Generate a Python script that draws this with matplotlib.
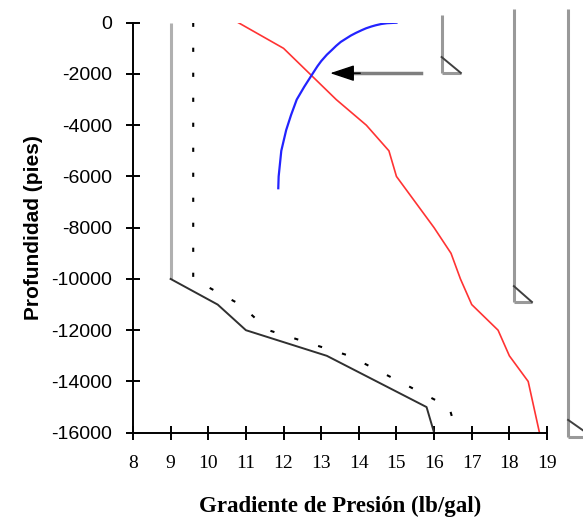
import matplotlib.pyplot as plt

# data (depth in ft, gradient in lb/gal)
gray_x = [9.0, 9.0]
gray_y = [0, -10000]

frac_x = [9.0, 10.25, 11.0, 13.15, 15.8, 16.0]
frac_y = [-10000, -11000, -12000, -13000, -15000, -16000]

dash_x = [9.6, 9.6, 10.85, 11.6, 13.75, 16.4, 16.6]
dash_y = [0, -10000, -11000, -12000, -13000, -15000, -16000]

red_x = [10.8, 12.0, 13.4, 14.2, 14.8, 15.0, 15.5, 16.0, 16.45, 16.7, 17.0, 17.7, 18.0, 18.5, 18.65, 18.8]
red_y = [0, -1000, -3000, -4000, -5000, -6000, -7000, -8000, -9000, -10000, -11000, -12000, -13000, -14000, -15000, -16000]

blue_x = [15.0, 14.75, 14.6, 14.45, 14.33, 14.19, 14.08, 13.92, 13.79, 13.66, 13.52, 13.4,
          13.28, 13.15, 13.0, 12.9, 12.75, 12.55, 12.35, 12.2, 12.07, 11.94, 11.87, 11.86]
blue_y = [0, -20, -50, -100, -150, -220, -290, -400, -500, -620, -750, -900,
          -1070, -1250, -1500, -1700, -2040, -2500, -3000, -3600, -4190, -5000, -6000, -6460]

xticks = list(range(8, 20))
yticks = list(range(0, -16001, -2000))

# casing schematic: (x, top, shoe top, shoe bottom, shoe right)
casings = [
    (16.2, 300, -1340, -1960, 16.71),
    (18.12, 530, -10280, -10900, 18.6),
    (19.56, 530, -15500, -16160, 20.2),
]

# arrow pointing at the crossing
arrow_y = -1970
arrow_tail = 15.65
arrow_tip = 13.24

fig = plt.figure(figsize=(5.83, 5.2), dpi=100)
ax = fig.add_axes([133 / 583, 1 - 432.7 / 520, (547 - 133) / 583, (432.7 - 22.7) / 520])

ax.plot(gray_x, gray_y, color="#b0b0b0", lw=2.2, solid_capstyle="butt")
ax.plot(frac_x, frac_y, color="#303030", lw=1.4)
ax.plot(dash_x, dash_y, color="black", lw=1.5, linestyle=(0, (2.0, 10.0)))
ax.plot(red_x, red_y, color="#ff3333", lw=1.2)
ax.plot(blue_x, blue_y, color="#2323ff", lw=1.6)

for cx, top, shoe_top, shoe_bot, shoe_right in casings:
    ax.plot([cx, cx], [top, shoe_bot], color="#999999", lw=2.2, clip_on=False,
            solid_capstyle="butt")
    ax.plot([cx, shoe_right], [shoe_bot, shoe_bot], color="#999999", lw=2.2, clip_on=False,
            solid_capstyle="butt")
    ax.plot([cx, shoe_right], [shoe_top, shoe_bot], color="#404040", lw=1.4, clip_on=False)

ax.plot([arrow_tip + 0.6, arrow_tail], [arrow_y, arrow_y], color="#7f7f7f", lw=2.5)
ax.annotate("", xy=(arrow_tip, arrow_y), xytext=(arrow_tip + 0.8, arrow_y),
            arrowprops=dict(arrowstyle="-|>,head_length=1.5,head_width=0.5",
                            color="black", lw=1, shrinkA=0, shrinkB=0))

ax.set_xlim(8, 19)
ax.set_ylim(-16000, 0)
ax.set_xticks(xticks)
ax.set_yticks(yticks)
ax.set_xticklabels([str(t) for t in xticks], family="Liberation Serif", fontsize=14)
ax.set_yticklabels([str(t) for t in yticks], family="Liberation Sans", fontsize=14)
ax.tick_params(direction="inout", length=10, width=1.4, color="black")
ax.tick_params(axis="x", pad=11)
ax.tick_params(axis="y", pad=10)

for s in ["top", "right"]:
    ax.spines[s].set_visible(False)
for s in ["left", "bottom"]:
    ax.spines[s].set_linewidth(1.4)

ax.set_xlabel("Gradiente de Presión (lb/gal)", family="Liberation Serif",
              fontweight="bold", fontsize=16.5, labelpad=17)
ax.set_ylabel("Profundidad (pies)", family="Liberation Sans",
              fontweight="bold", fontsize=15, labelpad=6)

fig.savefig("out.png", dpi=100)
